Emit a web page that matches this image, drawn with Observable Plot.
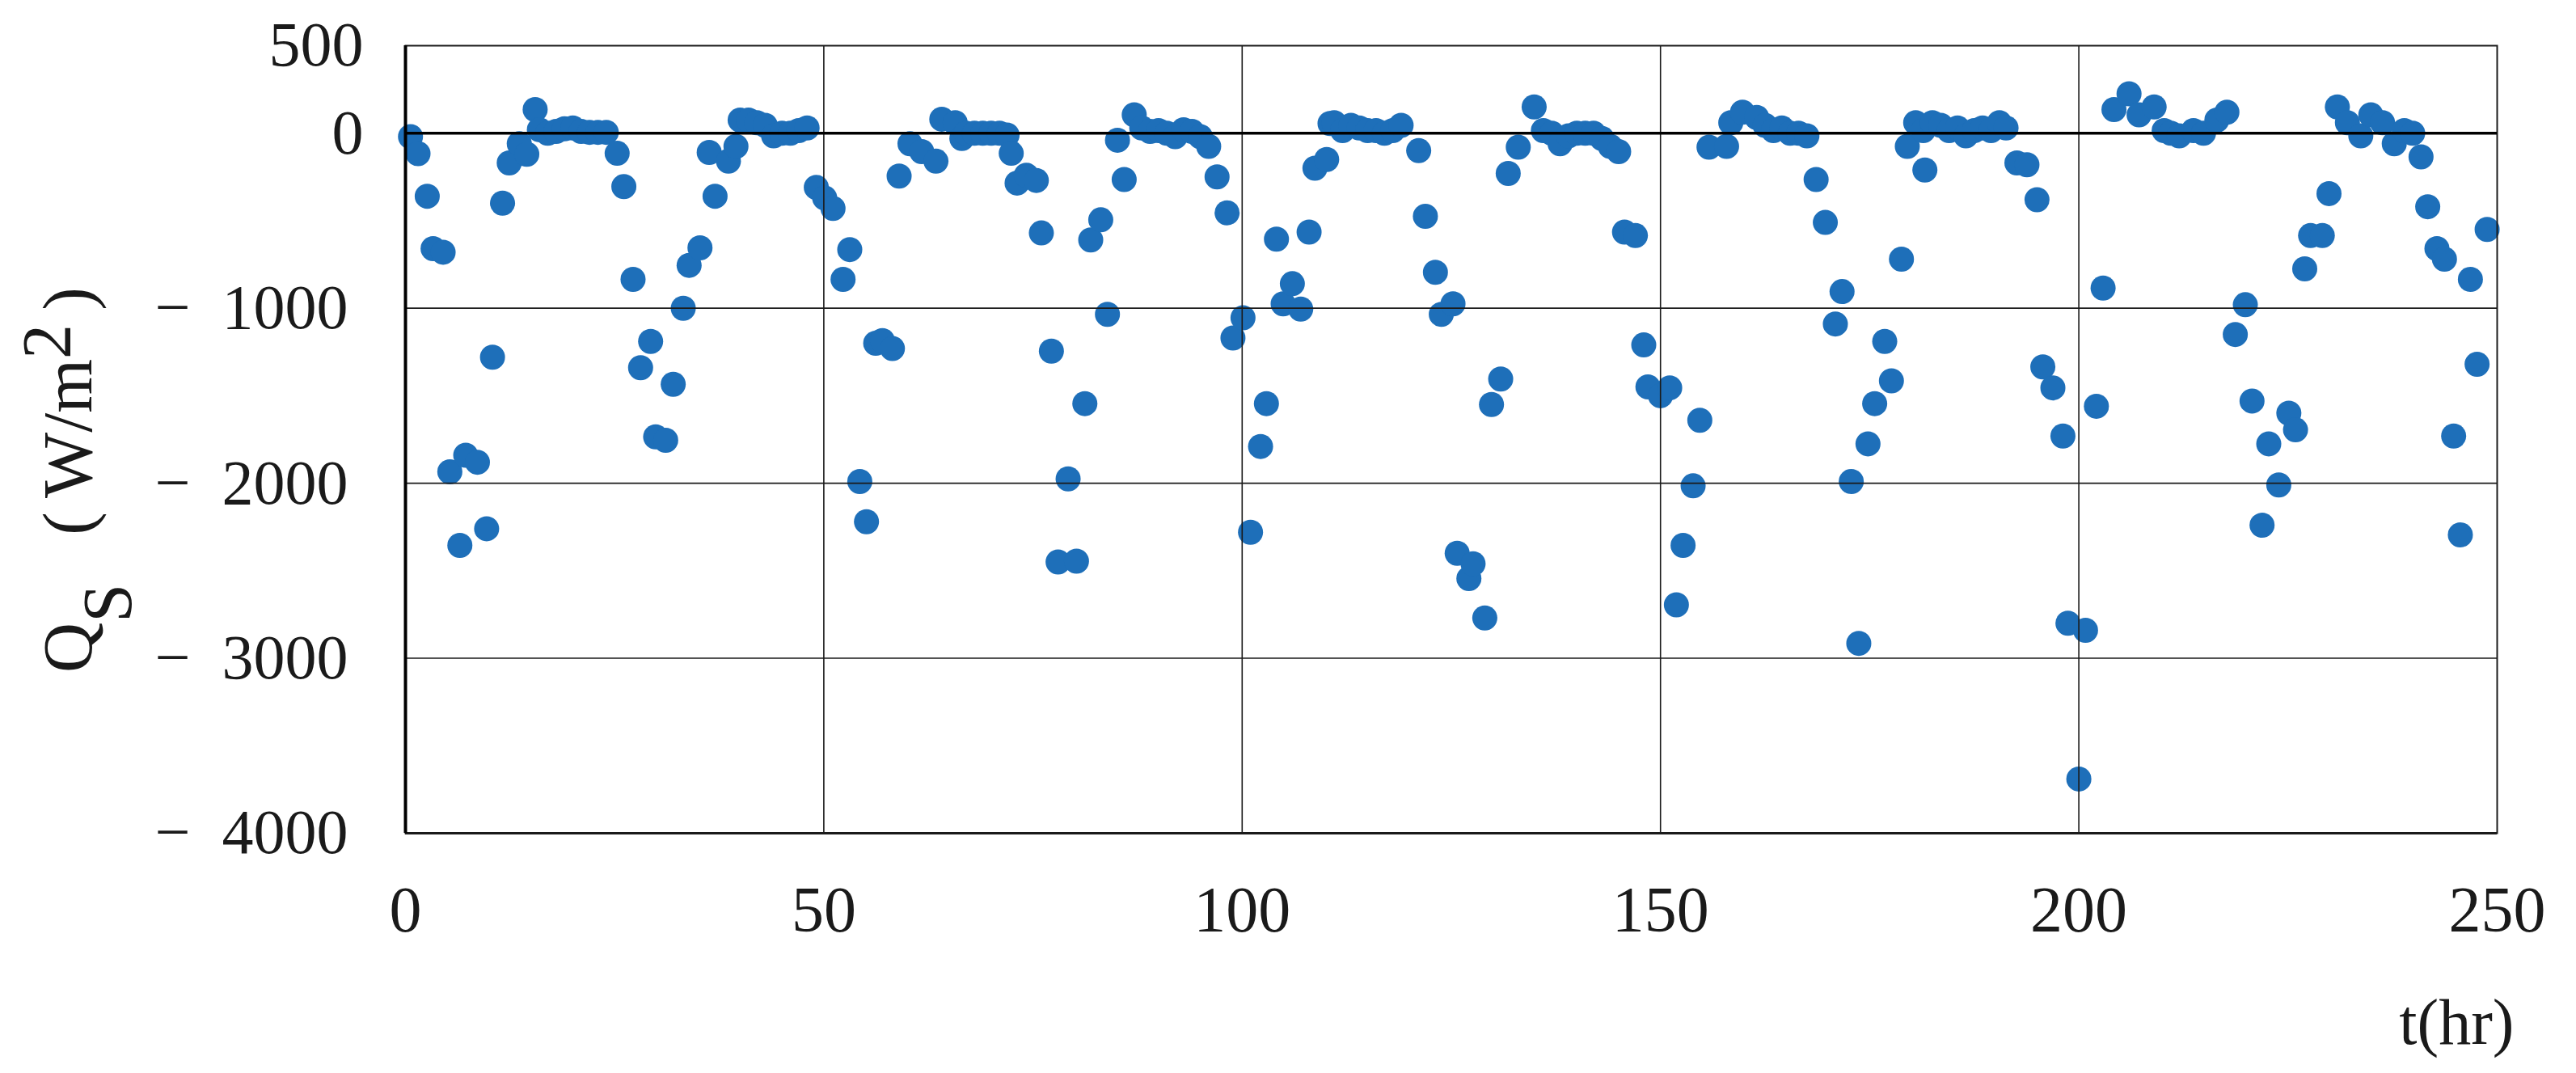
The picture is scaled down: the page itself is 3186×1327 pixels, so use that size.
<!DOCTYPE html>
<html><head><meta charset="utf-8">
<script src="https://cdn.jsdelivr.net/npm/d3@7"></script>
<script src="https://cdn.jsdelivr.net/npm/@observablehq/plot@0.6"></script>
<style>
html,body{margin:0;padding:0;background:#fff;}
svg{display:block;}
</style>
</head><body><div id="chart"></div>
<script>
const hours = [0.6,1.5,2.6,3.3,4.5,5.3,6.5,7.2,8.6,9.7,10.4,11.6,12.4,13.6,14.5,15.5,16,17,18,19,20,21,22,23,24,25.3,26.1,27.2,28.1,29.3,29.9,31.1,32,33.2,33.9,35.2,36.3,37,38.6,39.5,40,41,42,43,44,45,46,47,48,49.1,50.1,51.1,52.3,53.1,54.3,55.1,56.2,57,58.2,59,60.3,61.7,63.4,64.1,65.7,66.5,67,68,69,70,71,71.9,72.4,73.1,74.2,75.4,76,77.2,78,79.2,80.2,81.2,81.9,83.1,83.9,85.1,85.9,87.1,88,89,90,91,92,93,94,95,96,97,98.2,98.9,100.1,101,102.2,102.9,104.1,104.9,106,107,108,108.7,110.1,110.5,111,112,113,114,115,116,117,118,119,121.1,121.9,123.1,123.8,125.2,125.7,127.1,127.6,129,129.8,130.9,131.8,133,134.9,136,137,138,139,140,141,142,143,144,145,145.7,147,148,148.5,150,151.1,151.9,152.7,153.9,154.7,155.8,157.9,158.4,159.8,161.5,162.5,163.5,164.5,165.5,166.5,167.5,168.6,169.7,170.9,171.7,172.8,173.7,174.8,175.6,176.8,177.6,178.8,179.5,180.5,181.4,181.6,182.5,183.5,184.5,185.5,186.5,187.5,188.5,189.5,190.5,191.3,192.6,193.8,195,195.7,196.9,198.1,198.7,200,200.8,202.1,202.9,204.2,206,207.2,209,210.2,211,212,213.7,214.9,216.5,217.7,218.7,219.9,220.7,221.9,222.7,223.9,225.1,225.9,227,227.7,229.1,229.9,230.9,232.1,233.7,234.9,236.3,237.7,238.9,239.9,240.9,241.7,242.8,243.7,244.8,245.6,246.8,247.6,248.8];
const qs = [-20,-117,-360,-660,-680,-1935,-2355,-1840,-1880,-2260,-1280,-400,-170,-60,-120,135,20,0,10,25,30,10,5,5,5,-115,-305,-835,-1340,-1190,-1735,-1755,-1435,-1000,-755,-655,-110,-360,-160,-75,75,75,60,45,-15,0,0,15,30,-310,-370,-430,-835,-665,-1990,-2220,-1200,-1185,-1230,-245,-60,-105,-160,80,60,-30,0,0,0,0,0,-10,-115,-285,-240,-270,-570,-1245,-2450,-1975,-2445,-1545,-610,-495,-1035,-40,-265,105,30,10,15,0,-20,20,10,-20,-75,-250,-455,-1170,-1055,-2280,-1790,-1545,-605,-975,-860,-1005,-565,-200,-150,55,60,15,45,30,15,15,0,15,45,-100,-475,-795,-1035,-975,-2400,-2545,-2460,-2770,-1550,-1405,-230,-80,150,15,0,-60,-15,0,0,0,-30,-75,-105,-565,-585,-1210,-1450,-1500,-1455,-2695,-2355,-2015,-1640,-80,-75,60,120,90,45,15,30,0,0,-15,-265,-510,-1090,-905,-1990,-2915,-1775,-1545,-1190,-1415,-720,-75,60,15,-210,60,45,15,30,-15,15,30,15,60,30,-170,-180,-380,-1335,-1455,-1730,-2800,-3690,-2840,-1560,-885,135,225,105,150,15,0,-15,15,0,75,120,-1150,-980,-1530,-2240,-1775,-2010,-1600,-1695,-775,-585,-585,-345,150,60,-15,105,60,-60,15,0,-135,-420,-660,-720,-1730,-2295,-835,-1320,-550];
const xTicks = [0, 50, 100, 150, 200, 250];
const xGrid = [50, 100, 150, 200];
const yTicksTop = [500, 0];
const yTicksNeg = [-1000, -2000, -3000, -4000];
const yGrid = [-1000, -2000, -3000];
const xLabel = "t(hr)";
const yLabelPlaceholder = "QS_LABEL";

const data = hours.map((t, i) => ({t, q: qs[i]}));
const font = "'Liberation Serif', 'DejaVu Serif', serif";
const ink = "#1a1a1a";

const chart = Plot.plot({
  width: 3186, height: 1327,
  marginTop: 56, marginBottom: 297, marginLeft: 501, marginRight: 98,
  style: {fontFamily: font, background: "#fff", color: ink, overflow: "visible"},
  x: {domain: [0, 250]},
  y: {domain: [-4000, 500]},
  marks: [
    Plot.dot(data, {x: "t", y: "q", r: 15.5, fill: "#1e6fb9", stroke: "none"}),
    Plot.gridX(xGrid, {stroke: ink, strokeOpacity: 1, strokeWidth: 1.6}),
    Plot.gridY(yGrid, {stroke: ink, strokeOpacity: 1, strokeWidth: 1.6}),
    Plot.frame({stroke: ink, strokeWidth: 2}),
    Plot.ruleY([0], {stroke: "#000", strokeWidth: 3.5}),
    Plot.ruleY([-4000], {stroke: ink, strokeWidth: 3}),
    Plot.ruleX([0], {stroke: "#000", strokeWidth: 4}),
    Plot.axisX(xTicks, {tickSize: 0, tickPadding: 65, fontSize: 80, label: null, tickFormat: d => String(d)}),
    Plot.axisY(yTicksTop, {tickSize: 0, tickPadding: 52, fontSize: 78, label: null, tickFormat: d => String(d)}),
    Plot.axisY(yTicksNeg, {tickSize: 0, tickPadding: 71, fontSize: 78, label: null, tickFormat: d => "\u2212\u2002" + Math.abs(d)}),
    Plot.text([xLabel], {text: d => d, frameAnchor: "bottom-right", dx: 21, dy: 260, textAnchor: "end", fontSize: 80, fill: ink}),
    Plot.text([yLabelPlaceholder], {text: d => d, frameAnchor: "left", dx: -389, dy: 50, rotate: -90, textAnchor: "middle", lineAnchor: "bottom", fontSize: 86, fill: ink})
  ]
});

d3.select(chart).selectAll("text").filter(function () { return this.textContent === yLabelPlaceholder; })
  .each(function () {
    const t = d3.select(this);
    t.text(null);
    t.append("tspan").text("Q");
    t.append("tspan").attr("dy", "0.58em").text("S");
    t.append("tspan").attr("dy", "-0.58em").text("\u2002\u2009(\u2009W/m");
    t.append("tspan").attr("dy", "-0.3em").text("2");
    t.append("tspan").attr("dy", "0.3em").text("\u2009)");
  });

document.getElementById("chart").appendChild(chart);
</script>
</body></html>
